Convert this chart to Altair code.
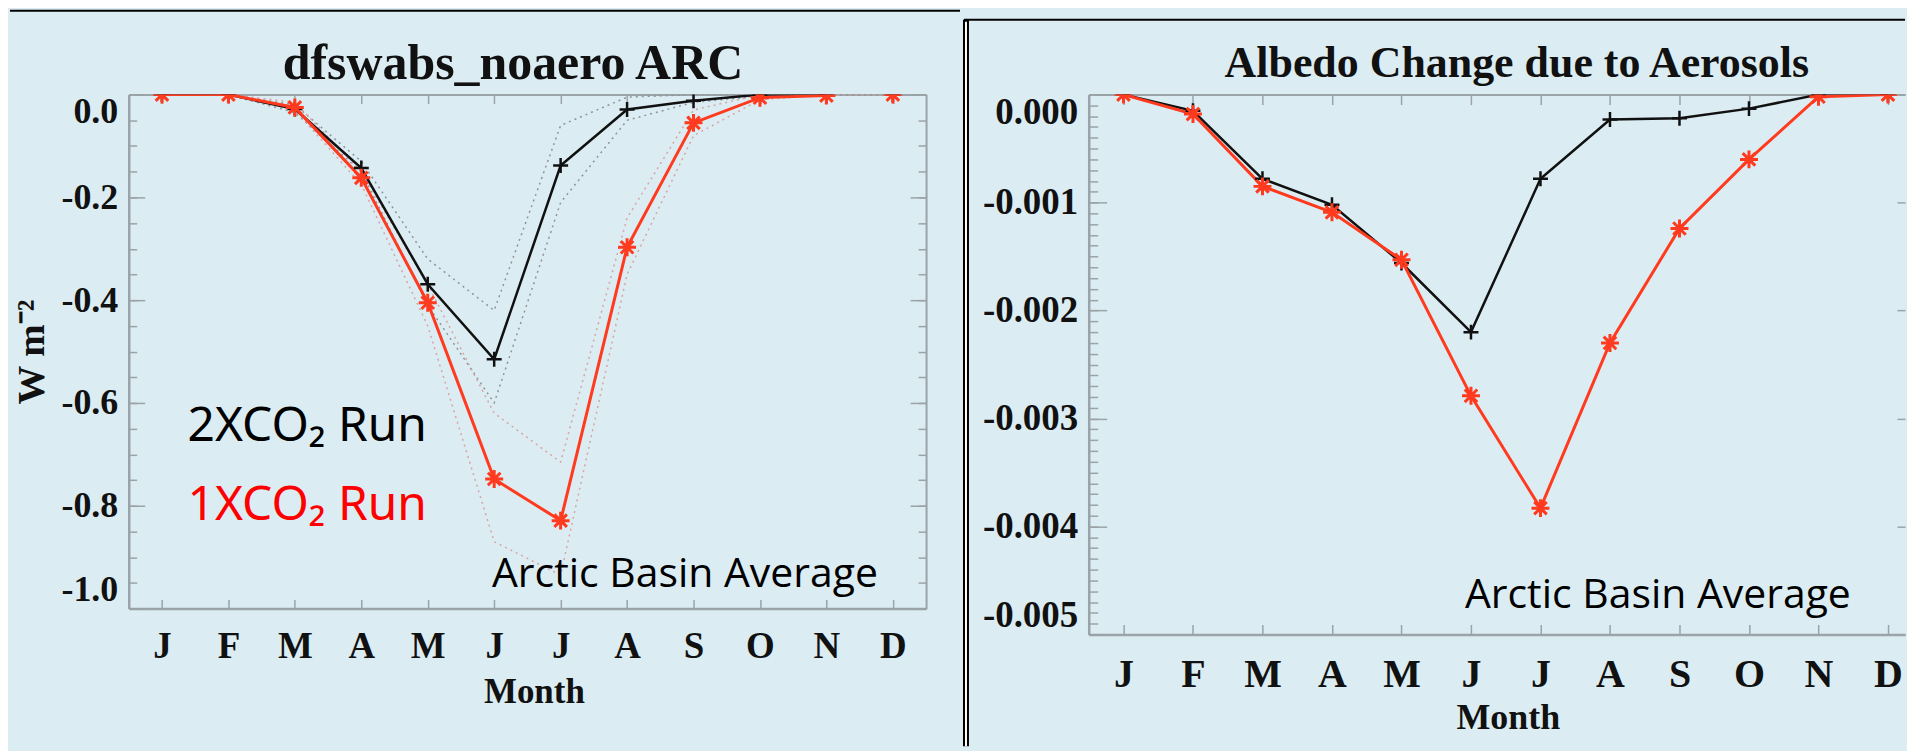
import altair as alt
import pandas as pd

# ---------------- data ----------------
months = list(range(1, 13))
month_labels = ["J", "F", "M", "A", "M", "J", "J", "A", "S", "O", "N", "D"]

left_title = "dfswabs_noaero ARC"
left_y_title = "W m\u207b\u00b2"
left_yticks = [0.0, -0.2, -0.4, -0.6, -0.8, -1.0]
left_2x = [0.0, 0.0, -0.028, -0.143, -0.369, -0.515, -0.138, -0.029, -0.012, 0.0, 0.0, 0.0]
left_1x = [0.0, 0.0, -0.025, -0.162, -0.405, -0.748, -0.829, -0.297, -0.055, -0.006, -0.002, 0.0]
left_2x_hi = [0.0, 0.0, -0.02, -0.13, -0.32, -0.42, -0.06, -0.005, 0.0, 0.0, 0.0, 0.0]
left_2x_lo = [0.0, 0.0, -0.035, -0.15, -0.41, -0.60, -0.21, -0.05, -0.015, -0.003, 0.0, 0.0]
left_1x_hi = [0.0, 0.0, -0.015, -0.15, -0.37, -0.62, -0.715, -0.24, -0.03, 0.0, 0.0, 0.0]
left_1x_lo = [0.0, 0.0, -0.03, -0.175, -0.45, -0.87, -0.935, -0.35, -0.08, -0.01, 0.0, 0.0]

right_title = "Albedo Change due to Aerosols"
right_yticks = [0.0, -0.001, -0.002, -0.003, -0.004, -0.005]
right_2x = [0.0, -0.00015, -0.00078, -0.00102, -0.00156, -0.0022, -0.00078, -0.00023, -0.00022, -0.00013, 0.0, 0.0]
right_1x = [0.0, -0.00018, -0.00085, -0.00109, -0.00153, -0.00279, -0.00383, -0.0023, -0.00124, -0.0006, -0.00002, 0.0]

x_title = "Month"
legend_2x = "2XCO\u2082 Run"
legend_1x = "1XCO\u2082 Run"
note = "Arctic Basin Average"

# ---------------- style ----------------
BG = "#dbedf3"
AXIS_GRAY = "#9aa3a7"
TEXT = "#111111"
BLACK = "#111111"
RED = "#ff3a1e"
ENV_GRAY = "#8e959a"
ENV_RED = "#d9a3a3"
SERIF = "Liberation Serif"
PLUS = "M-1,0H1M0,-1V1"
STAR = "M-1,0H1M0,-1V1M-0.7,-0.7L0.7,0.7M-0.7,0.7L0.7,-0.7"

month_expr = "[" + ",".join("'%s'" % m for m in month_labels) + "][datum.value - 1]"
one = pd.DataFrame({"k": [0]})


def tick_axis(orient, offset, size, values, domain=False):
    return alt.Axis(orient=orient, offset=offset, values=values, ticks=True, tickSize=size,
                    tickColor=AXIS_GRAY, tickWidth=1.5, labels=False, domain=domain,
                    domainColor=AXIS_GRAY, domainWidth=2, grid=False, title=None)


def x_label_axis(label_size, label_pad, title_size, title_x, title_y):
    return alt.Axis(orient="bottom", values=months, labelExpr=month_expr, labelFont=SERIF,
                    labelFontSize=label_size, labelFontWeight="bold", labelColor=TEXT,
                    labelBaseline="alphabetic", labelPadding=label_pad, labelOverlap=False,
                    ticks=False, tickSize=0, domain=True, domainColor=AXIS_GRAY, domainWidth=2.5,
                    grid=False, title=x_title, titleFont=SERIF, titleFontSize=title_size,
                    titleFontWeight="bold", titleColor=TEXT, titleBaseline="alphabetic",
                    titleX=title_x, titleY=title_y)


def y_label_axis(values, fmt, label_size, **kw):
    return alt.Axis(orient="left", values=values,
                    labelExpr="replace(format(datum.value, '%s'), '\u2212', '-')" % fmt,
                    labelFont=SERIF, labelFontSize=label_size, labelFontWeight="bold",
                    labelColor=TEXT, labelFlush=True, labelPadding=11, labelOverlap=False,
                    ticks=False, tickSize=0, domain=True, domainColor=AXIS_GRAY, domainWidth=2.5,
                    grid=False, **kw)


def text_layer(txt, x, y, color, font, size, align="left", weight="normal"):
    return alt.Chart(one).mark_text(text=txt, font=font, fontSize=size, color=color,
                                    align=align, baseline="alphabetic", fontWeight=weight).encode(
        x=alt.value(x), y=alt.value(y))


def hrule(x, x2, y, color, width):
    return alt.Chart(one).mark_rule(color=color, strokeWidth=width).encode(
        x=alt.value(x), x2=alt.value(x2), y=alt.value(y))


def vrule(x, y, y2, color, width):
    return alt.Chart(one).mark_rule(color=color, strokeWidth=width).encode(
        x=alt.value(x), y=alt.value(y), y2=alt.value(y2))


def black_pts(df, xs, ys, xaxis=None, yaxis=None):
    return alt.Chart(df).mark_point(shape=PLUS, filled=False, color=BLACK, strokeWidth=2.5,
                                    size=225, opacity=1, clip=True).encode(
        x=alt.X("month:Q", scale=xs, axis=xaxis), y=alt.Y("b:Q", scale=ys, axis=yaxis))


def red_pts(df, xs, ys, xaxis=None, yaxis=None):
    return alt.Chart(df).mark_point(shape=STAR, filled=False, color=RED, strokeWidth=3,
                                    size=324, opacity=1, clip=True).encode(
        x=alt.X("month:Q", scale=xs, axis=xaxis), y=alt.Y("r:Q", scale=ys, axis=yaxis))


# ---------------- left panel ----------------
LW, LH = 799, 515
ldf = pd.DataFrame({"month": months, "b": left_2x, "r": left_1x, "bh": left_2x_hi,
                    "bl": left_2x_lo, "rh": left_1x_hi, "rl": left_1x_lo})
lx = alt.Scale(domain=[0.5, 12.5], nice=False, zero=False)
ly = alt.Scale(domain=[-1.0, 0.0], nice=False, zero=False)
left_minor = [round(-0.05 * i, 2) for i in range(21)]


def lenv(field, color, xaxis, yaxis):
    return alt.Chart(ldf).mark_line(color=color, strokeDash=[2, 4], strokeWidth=1.5, clip=True).encode(
        x=alt.X("month:Q", scale=lx, axis=xaxis),
        y=alt.Y(field + ":Q", scale=ly, axis=yaxis))


l1 = lenv("bh", ENV_GRAY, x_label_axis(37, 49, 35, 406, 94),
          y_label_axis(left_yticks, ".1f", 36, title=left_y_title, titleFont=SERIF,
                       titleFontSize=39, titleFontWeight="bold", titleColor=TEXT,
                       titleX=-97, titleY=LH / 2, titleBaseline="middle"))
l2 = lenv("bl", ENV_GRAY, tick_axis("bottom", -LH, 9, months, domain=True),
          tick_axis("right", -LW, 16, left_yticks))
l3 = lenv("rh", ENV_RED, tick_axis("top", -LH, 9, months),
          tick_axis("right", -LW, 8, left_minor))
l4 = lenv("rl", ENV_RED, None, tick_axis("left", -LW, 16, left_yticks, domain=True))
l5 = alt.Chart(ldf).transform_filter(alt.datum.month < 12).mark_line(
    color=BLACK, strokeWidth=2.5, clip=True).encode(
    x=alt.X("month:Q", scale=lx, axis=None),
    y=alt.Y("b:Q", scale=ly, axis=tick_axis("left", -LW, 8, left_minor)))
l6 = alt.Chart(ldf).transform_filter(alt.datum.month < 12).mark_line(
    color=RED, strokeWidth=3, clip=True).encode(
    x=alt.X("month:Q", scale=lx, axis=None),
    y=alt.Y("r:Q", scale=ly, axis=None))
l7 = black_pts(ldf, lx, ly)
l8 = red_pts(ldf, lx, ly)

left = alt.layer(
    l1, l2, l3, l4, l5, l6, l7, l8,
    text_layer(left_title, 385, -16, TEXT, SERIF, 50, align="center", weight="bold"),
    text_layer(legend_2x, 59, 347, "#000000", "Noto Sans", 48),
    text_layer(legend_1x, 59, 426, "#ff0000", "Noto Sans", 48),
    text_layer(note, 364, 493, "#000000", "Open Sans", 41),
    hrule(-119, 833, -84, "#000000", 2),
).properties(width=LW, height=LH).resolve_axis(x="independent", y="independent")

# ---------------- right panel ----------------
RW, RH = 818, 541
rdf = pd.DataFrame({"month": months, "b": right_2x, "r": right_1x})
rx = alt.Scale(domain=[0.5, 12.245], nice=False, zero=False)
ry = alt.Scale(domain=[-0.005, 0.0], nice=False, zero=False)
right_minor = [round(-0.0001 * i, 4) for i in range(51)]

r1 = alt.Chart(rdf).mark_line(color=BLACK, strokeWidth=2.5, clip=True).encode(
    x=alt.X("month:Q", scale=rx, axis=x_label_axis(40, 52, 36, 420, 94)),
    y=alt.Y("b:Q", scale=ry, axis=y_label_axis(right_yticks, ".3f", 37, title=None)))
r2 = alt.Chart(rdf).mark_line(color=RED, strokeWidth=3, clip=True).encode(
    x=alt.X("month:Q", scale=rx, axis=tick_axis("bottom", -RH, 10, months, domain=True)),
    y=alt.Y("r:Q", scale=ry, axis=tick_axis("right", -RW, 18, right_yticks)))
r3 = black_pts(rdf, rx, ry, tick_axis("top", -RH, 10, months),
               tick_axis("right", -RW, 9, right_minor))
r4 = red_pts(rdf, rx, ry, None, tick_axis("left", -RW, 8, right_yticks))

right = alt.layer(
    r1, r2, r3, r4,
    text_layer(right_title, 429, -18, TEXT, SERIF, 44, align="center", weight="bold"),
    text_layer(note, 377, 514, "#000000", "Open Sans", 41),
    hrule(-125, RW, -75, "#000000", 2),
    vrule(-123, -75, 653, "#000000", 6),
    vrule(-123, -73, 653, "#ffffff", 2),
).properties(width=RW, height=RH).resolve_axis(x="independent", y="independent")

chart = alt.hconcat(left, right, spacing=0).properties(
    background=BG, padding=0
).configure_view(stroke="transparent")

chart.save("out.html", embed_options={"renderer": "svg", "actions": False})
